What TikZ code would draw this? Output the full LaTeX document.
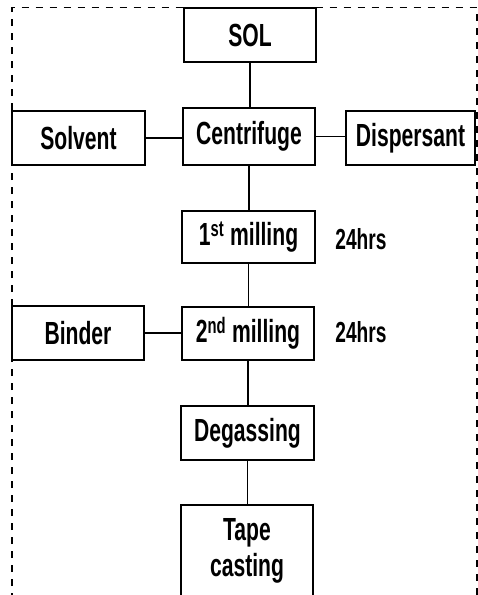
\documentclass[tikz,border=0pt]{standalone}
\usepackage{fontspec}
\setmainfont{Liberation Sans}[FakeStretch=0.66]
\begin{document}
\begin{tikzpicture}[x=1pt,y=-1pt,
  box/.style={draw,line width=1.6pt,inner sep=0pt,align=center,
    font=\bfseries\fontsize{32}{36}\selectfont},
  lbl/.style={inner sep=0pt,font=\bfseries\fontsize{29}{32}\selectfont},
  link/.style={line width=1.6pt}]
\useasboundingbox (0,0) rectangle (478,595);
\draw[line width=1.4pt,dash pattern=on 7pt off 7pt] (12,600) -- (12,7.5) -- (477,7.5) -- (477,600);
\node[box,minimum width=132pt,minimum height=54pt] (sol) at (250,35) {SOL};
\node[box,minimum width=132pt,minimum height=57pt] (cen) at (249,136.5) {Centrifuge};
\node[box,minimum width=133pt,minimum height=54pt] (sv) at (78.5,138) {Solvent};
\node[box,minimum width=129pt,minimum height=54pt] (dis) at (410.5,138) {Dispersant};
\node[box,minimum width=133pt,minimum height=52pt] (m1) at (248.5,237) {1\textsuperscript{st} milling};
\node[lbl] (h1) at (361,239) {24hrs};
\node[box,minimum width=132pt,minimum height=53pt] (m2) at (248,333.5) {2\textsuperscript{nd} milling};
\node[box,minimum width=132pt,minimum height=54pt] (bin) at (78,333) {Binder};
\node[lbl] (h2) at (361,332) {24hrs};
\node[box,minimum width=133pt,minimum height=54pt] (deg) at (247.5,433) {Degassing};
\node[box,minimum width=132pt,minimum height=92pt] (tape) at (247,551) {Tape\\casting};
\draw[link] (sol.south) -- (sol.south |- cen.north);
\draw[link] (cen.south) -- (cen.south |- m1.north);
\draw[link] (m1.south) -- (m1.south |- m2.north);
\draw[link] (m2.south) -- (m2.south |- deg.north);
\draw[link] (deg.south) -- (deg.south |- tape.north);
\draw[link] (sv.east) -- (sv.east -| cen.west);
\draw[link] (cen.east) -- (cen.east -| dis.west);
\draw[link] (bin.east) -- (bin.east -| m2.west);
\end{tikzpicture}
\end{document}
